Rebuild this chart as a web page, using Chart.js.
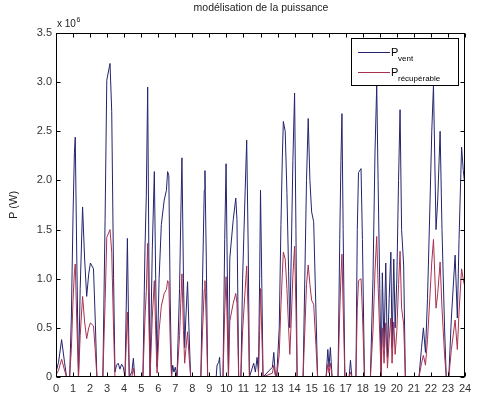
<!DOCTYPE html>
<html>
<head>
<meta charset="utf-8">
<script src="https://cdn.jsdelivr.net/npm/chart.js@4.4.1/dist/chart.umd.min.js"></script>
<style>
  html, body { margin: 0; padding: 0; background: #fff; }
  canvas { display: block; }
</style>
</head>
<body>
<canvas id="c" width="478" height="407"></canvas>
<script>
// Time of day (hours)
const hours = [
  0.00,0.15,0.33,0.50,0.62,0.80,0.90,1.00,1.08,1.13,1.22,1.32,1.42,1.56,1.68,1.80,1.92,2.02,2.20,2.30,2.40,2.75,2.88,2.98,
  3.17,3.27,3.38,3.46,3.55,3.65,3.75,3.85,3.95,4.05,4.19,4.30,4.45,4.54,4.62,5.10,5.22,5.30,5.38,5.45,5.52,5.65,5.77,5.85,5.93,
  6.05,6.18,6.35,6.48,6.55,6.62,6.70,6.78,6.85,6.92,7.00,7.10,7.25,7.32,7.39,7.48,7.55,7.62,7.72,7.80,7.90,8.50,8.60,8.70,8.74,8.82,8.90,
  9.40,9.45,9.55,9.60,9.65,9.80,9.90,9.98,10.05,10.12,10.20,10.40,10.55,10.62,10.72,10.85,10.95,11.10,11.19,11.28,11.35,11.60,11.70,11.80,11.88,11.95,
  12.00,12.08,12.15,12.70,12.78,12.86,12.95,13.10,13.20,13.28,13.34,13.45,13.55,13.65,13.72,13.80,13.90,14.00,14.08,14.15,14.50,14.60,14.70,14.80,14.90,15.00,
  15.12,15.25,15.35,15.85,15.95,16.02,16.10,16.20,16.55,16.65,16.72,16.78,16.85,16.95,17.20,17.28,17.36,17.60,17.68,17.75,17.90,17.98,18.10,
  18.45,18.60,18.72,18.82,18.90,19.00,19.08,19.15,19.25,19.35,19.45,19.55,19.65,19.72,19.82,19.90,20.00,20.10,20.19,20.28,20.40,20.50,21.30,
  21.45,21.56,21.68,21.80,21.95,22.05,22.15,22.30,22.40,22.54,22.65,22.80,22.90,23.05,23.20,23.42,23.55,23.65,23.80,23.90,24.00
];
// Wind power P_vent (x 10^6 W)
const pVent = [
  0.05,0.15,0.38,0.15,0,0,0.60,1.65,2.28,2.44,1.20,0,0.90,1.73,1.20,0.82,1.05,1.16,1.10,0.60,0,0,1.60,3.02,
  3.19,2.70,1.00,0.05,0.12,0.14,0.08,0.13,0.10,0,1.41,0,0.05,0.19,0,0,1.30,1.85,2.95,1.20,0,1.30,2.09,1.00,0.10,
  1.00,1.55,1.80,1.90,2.09,2.05,0.80,0,0.12,0.05,0.10,0,0.90,1.60,2.23,1.00,0.30,0.60,0.97,0.50,0,0,1.00,1.90,2.10,1.20,0,
  0,0.12,0.15,0.20,0,0,1.40,2.17,1.10,0,1.21,1.60,1.82,1.60,0,0,1.00,1.90,2.41,1.30,0,0.14,0.05,0.20,0.05,1.00,
  1.90,0.90,0,0.10,0.25,0.05,0,0.50,1.55,2.23,2.60,2.50,1.88,1.07,0.50,1.20,2.20,2.89,1.50,0,0,1.00,2.00,2.63,2.00,1.68,
  1.58,0.70,0,0,0.28,0.10,0.30,0,0,1.40,2.20,2.68,1.50,0,0,0.17,0,0,1.50,2.08,2.12,1.40,0,
  0,1.00,2.30,2.97,2.00,0.90,0,1.06,0.30,1.16,0.20,0.80,1.27,0.30,1.20,0.50,1.00,2.00,2.72,1.50,1.14,0,0,
  0.30,0.50,0.25,0.80,1.80,2.50,2.97,1.50,1.80,2.50,1.50,0.50,0,0,0.60,1.24,0.60,1.40,2.34,2.10,1.94
];
// Recoverable power P_récupérable (x 10^6 W)
const pRecup = [
  0.02,0.07,0.18,0.07,0,0,0.28,0.78,1.07,1.15,0.56,0,0.42,0.82,0.56,0.39,0.50,0.55,0.52,0.28,0,0,0.75,1.42,
  1.50,1.27,0.47,0,0,0,0,0,0,0,0.66,0,0,0.09,0,0,0.60,0.87,1.36,0.56,0,0.61,0.98,0.47,0.04,
  0.47,0.72,0.85,0.89,0.98,0.96,0.38,0,0,0,0,0,0.42,0.75,1.05,0.47,0.14,0.28,0.46,0.23,0,0,0.47,0.89,0.98,0.56,0,
  0,0,0,0,0,0,0.66,1.02,0.52,0,0.57,0.75,0.85,0.75,0,0,0.47,0.89,1.13,0.61,0,0,0,0,0,0.47,
  0.90,0.42,0,0.04,0.12,0.02,0,0.23,0.73,1.05,1.27,1.20,0.90,0.50,0.23,0.56,1.03,1.33,0.70,0,0,0.47,0.94,1.14,0.94,0.78,
  0.74,0.33,0,0,0.13,0.04,0.14,0,0,0.66,1.03,1.25,0.70,0,0,0.05,0,0,0.70,0.98,1.00,0.66,0,
  0,0.47,1.08,1.43,0.94,0.42,0,0.50,0.14,0.55,0.09,0.38,0.60,0.14,0.56,0.23,0.47,0.94,1.28,0.70,0.54,0,0,
  0.14,0.22,0.12,0.38,0.85,1.17,1.40,0.70,0.85,1.17,0.70,0.23,0,0,0.28,0.58,0.28,0.66,1.10,0.99,0.91
];
const xTickValues = [0,1,2,3,4,5,6,7,8,9,10,11,12,13,14,15,16,17,18,19,20,21,22,23,24];
const yTickValues = [0,0.5,1,1.5,2,2.5,3,3.5];
const seriesNames = ['vent', 'récupérable'];
const chartTitle = 'modélisation de la puissance';
const yAxisTitle = 'P (W)';

const VENT_COLOR = '#23236e';
const RECUP_COLOR = '#a8304f';
const FONT = '"Liberation Sans", Arial, Helvetica, sans-serif';

const deco = {
  id: 'deco',
  afterDatasetsDraw(chart) {
    const ctx = chart.ctx;
    ctx.save();
    // legend box
    const lx = 351.5, ly = 38.5, lw = 107, lh = 47;
    ctx.fillStyle = '#fff';
    ctx.fillRect(lx, ly, lw, lh);
    ctx.strokeStyle = '#000';
    ctx.lineWidth = 1;
    ctx.strokeRect(lx, ly, lw, lh);
    const rows = [{c: VENT_COLOR, y: 52.5, sub: seriesNames[0]}, {c: RECUP_COLOR, y: 72.5, sub: seriesNames[1]}];
    rows.forEach(r => {
      ctx.strokeStyle = r.c;
      ctx.beginPath(); ctx.moveTo(358, r.y); ctx.lineTo(390, r.y); ctx.stroke();
      ctx.fillStyle = '#000';
      ctx.textAlign = 'left'; ctx.textBaseline = 'alphabetic';
      ctx.font = '11px ' + FONT;
      ctx.fillText('P', 391, r.y + 3);
      ctx.font = '8px ' + FONT;
      ctx.fillText(r.sub, 398, r.y + 8.5);
    });
    ctx.restore();
  },
  afterDraw(chart) {
    const {ctx, chartArea: a, scales: {x, y}} = chart;
    ctx.save();
    ctx.strokeStyle = '#000';
    ctx.lineWidth = 1;
    const L = Math.round(a.left) + 0.5, R = Math.round(a.right) - 0.5;
    const T = Math.round(a.top) + 0.5, B = Math.round(a.bottom) - 0.5;
    ctx.strokeRect(L, T, R - L, B - T);
    ctx.beginPath();
    xTickValues.forEach(v => {
      const px = Math.round(x.getPixelForValue(v)) + 0.5;
      ctx.moveTo(px, B); ctx.lineTo(px, B - 4);
      ctx.moveTo(px, T); ctx.lineTo(px, T + 4);
    });
    yTickValues.forEach(v => {
      const py = Math.round(y.getPixelForValue(v)) + 0.5;
      ctx.moveTo(L, py); ctx.lineTo(L + 4, py);
      ctx.moveTo(R, py); ctx.lineTo(R - 4, py);
    });
    ctx.stroke();
    ctx.fillStyle = '#222';
    // title
    ctx.font = '10.5px ' + FONT;
    ctx.textAlign = 'center'; ctx.textBaseline = 'alphabetic';
    ctx.fillText(chartTitle, 261, 11);
    // exponent
    ctx.textAlign = 'left';
    ctx.font = '10px ' + FONT;
    const base = 'x 10';
    ctx.fillText(base, 57, 27);
    const w = ctx.measureText(base).width;
    ctx.font = '7px ' + FONT;
    ctx.fillText('6', 57 + w + 0.5, 22);
    // y title
    ctx.translate(17, 205);
    ctx.rotate(-Math.PI / 2);
    ctx.textAlign = 'center';
    ctx.font = '11px ' + FONT;
    ctx.fillText(yAxisTitle, 0, 0);
    ctx.restore();
  }
};

new Chart(document.getElementById('c'), {
  type: 'line',
  data: {
    datasets: [
      {
        label: 'P récupérable',
        data: hours.map((h, i) => ({x: h, y: pRecup[i]})),
        borderColor: RECUP_COLOR, borderWidth: 1, pointRadius: 0, tension: 0, fill: false
      },
      {
        label: 'P vent',
        data: hours.map((h, i) => ({x: h, y: pVent[i]})),
        borderColor: VENT_COLOR, borderWidth: 1, pointRadius: 0, tension: 0, fill: false
      }
    ]
  },
  options: {
    responsive: false,
    animation: false,
    devicePixelRatio: 1,
    layout: {padding: {top: 33, right: 13, left: 0, bottom: 0}},
    plugins: {legend: {display: false}, tooltip: {enabled: false}, title: {display: false}},
    scales: {
      x: {
        type: 'linear', min: 0, max: 24,
        afterBuildTicks: s => { s.ticks = xTickValues.map(v => ({value: v})); },
        afterFit: s => { s.height = 30; },
        grid: {display: false, drawTicks: false},
        border: {display: false},
        ticks: {autoSkip: false, maxRotation: 0, padding: 5, color: '#333', font: {family: FONT, size: 11}}
      },
      y: {
        type: 'linear', min: 0, max: 3.5,
        afterBuildTicks: s => { s.ticks = yTickValues.map(v => ({value: v})); },
        afterFit: s => { s.width = 56; },
        grid: {display: false, drawTicks: false},
        border: {display: false},
        ticks: {padding: 4, color: '#333', font: {family: FONT, size: 11}}
      }
    }
  },
  plugins: [deco]
});
</script>
</body>
</html>
